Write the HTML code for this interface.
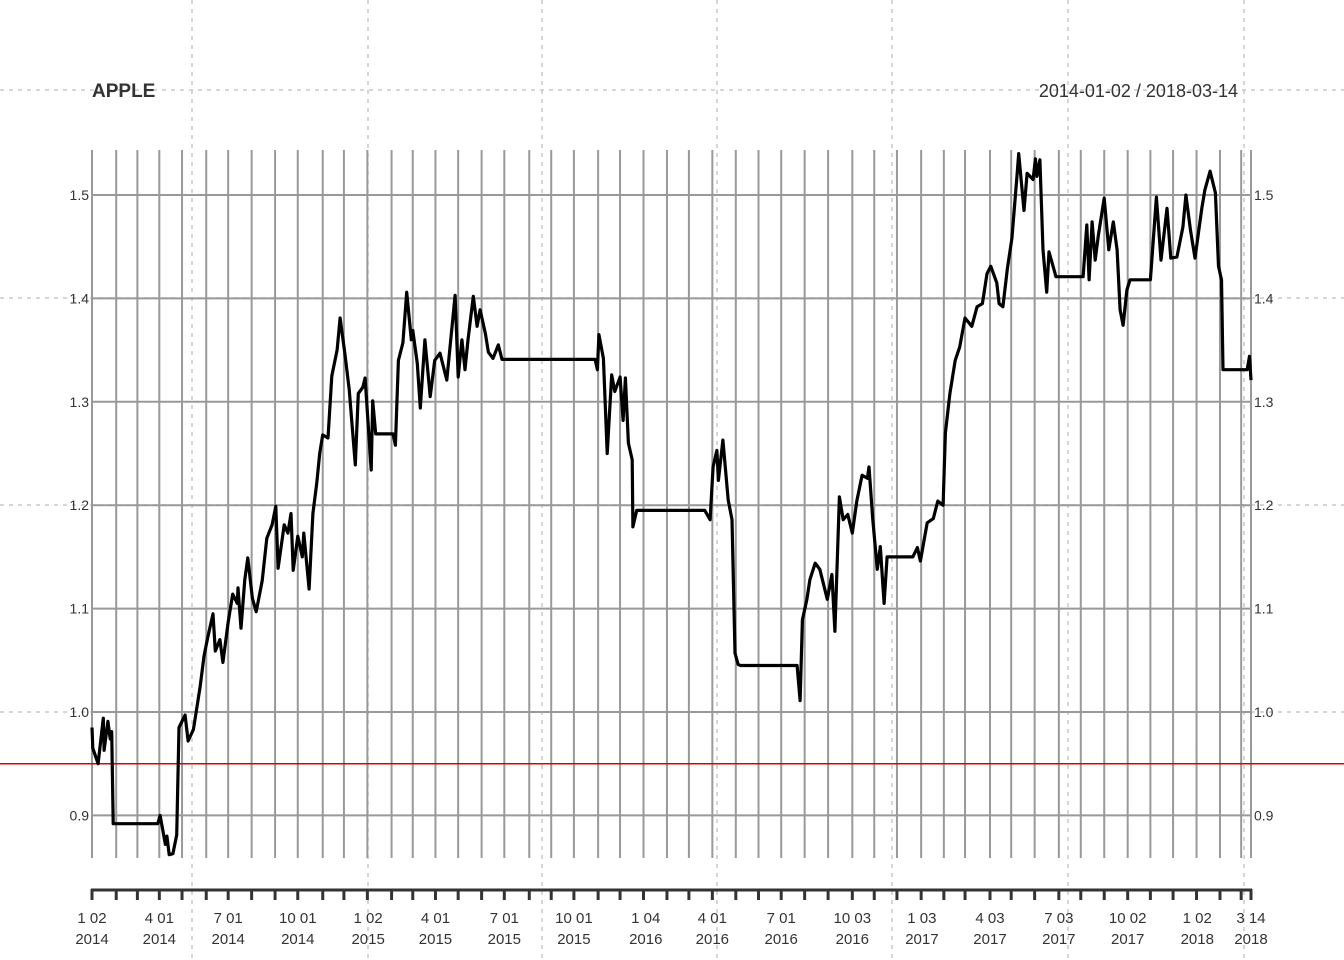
<!DOCTYPE html>
<html><head><meta charset="utf-8"><style>
html,body{margin:0;padding:0;background:#fff;}
svg{display:block;font-family:"Liberation Sans",sans-serif;}
</style></head><body>
<svg id="chart" width="1344" height="960" xmlns="http://www.w3.org/2000/svg"></svg>
<script>
// day offsets from 2014-01-02, and values
const days = [0,1,8,15,16,21,24,26,28,87,90,97,99,102,107,112,115,123,127,134,143,148,153,160,163,169,173,180,186,192,193,197,202,206,212,217,225,231,238,243,246,254,259,263,266,272,278,280,287,292,297,301,305,312,317,324,328,334,340,348,352,358,361,369,371,375,398,401,405,411,416,422,424,430,434,440,447,453,460,469,480,484,489,493,497,504,509,513,520,524,530,537,542,665,668,670,676,681,687,691,698,702,705,709,714,715,720,810,817,821,826,828,834,841,846,850,854,857,932,936,939,945,949,956,962,972,978,982,988,993,999,1005,1011,1018,1025,1027,1032,1038,1042,1047,1051,1085,1091,1095,1104,1112,1118,1125,1128,1134,1141,1147,1154,1163,1170,1177,1183,1188,1196,1199,1204,1210,1216,1223,1225,1232,1236,1244,1247,1249,1253,1257,1262,1265,1273,1274,1310,1315,1318,1322,1326,1330,1338,1344,1350,1355,1359,1363,1368,1372,1399,1407,1413,1421,1426,1434,1442,1446,1452,1458,1467,1471,1478,1485,1489,1493,1495,1527,1530,1532];
const values = [0.985,0.965,0.95,0.994,0.963,0.991,0.974,0.981,0.892,0.892,0.90,0.872,0.88,0.862,0.863,0.881,0.985,0.997,0.972,0.983,1.025,1.054,1.072,1.095,1.059,1.07,1.048,1.087,1.114,1.105,1.12,1.081,1.128,1.149,1.11,1.097,1.127,1.168,1.181,1.199,1.139,1.181,1.173,1.192,1.137,1.17,1.15,1.173,1.119,1.192,1.221,1.25,1.268,1.265,1.325,1.35,1.381,1.348,1.312,1.239,1.308,1.314,1.323,1.234,1.301,1.269,1.269,1.258,1.34,1.357,1.406,1.36,1.369,1.337,1.294,1.36,1.305,1.34,1.347,1.321,1.403,1.324,1.36,1.331,1.36,1.402,1.373,1.389,1.366,1.348,1.342,1.355,1.341,1.341,1.331,1.365,1.342,1.25,1.326,1.31,1.324,1.282,1.323,1.26,1.244,1.179,1.195,1.195,1.186,1.237,1.253,1.224,1.263,1.205,1.186,1.057,1.046,1.045,1.045,1.011,1.089,1.109,1.128,1.144,1.138,1.109,1.133,1.078,1.208,1.186,1.191,1.173,1.204,1.229,1.226,1.237,1.187,1.138,1.16,1.105,1.15,1.15,1.159,1.146,1.183,1.187,1.204,1.2,1.27,1.308,1.34,1.353,1.381,1.373,1.392,1.395,1.424,1.431,1.415,1.395,1.392,1.429,1.458,1.521,1.54,1.485,1.521,1.515,1.535,1.518,1.534,1.447,1.406,1.445,1.424,1.421,1.421,1.471,1.418,1.474,1.437,1.46,1.497,1.447,1.474,1.447,1.389,1.374,1.408,1.418,1.418,1.498,1.437,1.487,1.439,1.44,1.469,1.5,1.466,1.439,1.487,1.505,1.523,1.502,1.431,1.418,1.331,1.331,1.344,1.321];
const yTicks = [0.9,1.0,1.1,1.2,1.3,1.4,1.5];
const yTickLabels = ["0.9","1.0","1.1","1.2","1.3","1.4","1.5"];
const xLabelDates = ["2014-01-02","2014-04-01","2014-07-01","2014-10-01","2015-01-02","2015-04-01","2015-07-01","2015-10-01","2016-01-04","2016-04-01","2016-07-01","2016-10-03","2017-01-03","2017-04-03","2017-07-03","2017-10-02","2018-01-02","2018-03-14"];
const xLabelTop = ["1 02","4 01","7 01","10 01","1 02","4 01","7 01","10 01","1 04","4 01","7 01","10 03","1 03","4 03","7 03","10 02","1 02","3 14"];
const xLabelBottom = ["2014","2014","2014","2014","2015","2015","2015","2015","2016","2016","2016","2016","2017","2017","2017","2017","2018","2018"];
const threshold = 0.95;

const NS="http://www.w3.org/2000/svg";
const svg=document.getElementById('chart');
const X0=92,X1=1251,TOT=1532;
const start=Date.UTC(2014,0,2);
const xd=d=>X0+d/TOT*(X1-X0);
const xDate=s=>{const p=s.split('-');return xd((Date.UTC(+p[0],+p[1]-1,+p[2])-start)/86400000);};
const y=v=>712-(v-1.0)*1034;
function mk(tag,attrs,parent){const e=document.createElementNS(NS,tag);for(const k in attrs)e.setAttribute(k,attrs[k]);(parent||svg).appendChild(e);return e;}

[90,298,505,712].forEach(yy=>{
  const l=mk('line',{x1:0,x2:1344,y1:yy,y2:yy,stroke:'#c8c8c8','stroke-width':1.5,'stroke-dasharray':'4 5'});
  
  
});
[192,368,542,717,892,1068,1244].forEach(xx=>{
  const l=mk('line',{x1:xx,x2:xx,y1:0,y2:960,stroke:'#c8c8c8','stroke-width':1.5,'stroke-dasharray':'4 5'});
  
  
});

const months=[];
for(let yr=2014;yr<=2018;yr++)for(let m=0;m<12;m++){
  if(yr===2018&&m>2)break;
  let d=new Date(Date.UTC(yr,m,1));
  if(yr===2014&&m===0)d=new Date(start);
  while(d.getUTCDay()===0||d.getUTCDay()===6)d=new Date(d.getTime()+86400000);
  months.push((d-start)/86400000);
}
months.push(TOT);
months.forEach(d=>{
  const xx=xd(d);
  const g=mk('line',{x1:xx,x2:xx,y1:150,y2:858,stroke:'#999','stroke-width':2});
  
  
  const t=mk('line',{x1:xx,x2:xx,y1:889,y2:900,stroke:'#333','stroke-width':3});
  
  
});

yTicks.forEach((v,i)=>{
  const g=mk('line',{x1:X0,x2:X1,y1:y(v),y2:y(v),stroke:'#999','stroke-width':2});
  
  
  const tl=mk('text',{x:89,y:y(v)+5,'text-anchor':'end','font-size':14,fill:'#333'});
  tl.textContent=yTickLabels[i];
  
  
  const tr=mk('text',{x:1254,y:y(v)+5,'text-anchor':'start','font-size':14,fill:'#333'});
  tr.textContent=yTickLabels[i];
  
  
});

const ax=mk('line',{x1:X0-1,x2:X1+1,y1:890,y2:890,stroke:'#333','stroke-width':3});


xLabelDates.forEach((s,i)=>{
  const xx=xDate(s);
  const t1=mk('text',{x:xx,y:923,'text-anchor':'middle','font-size':15,fill:'#333'});
  t1.textContent=xLabelTop[i];
  
  
  const t2=mk('text',{x:xx,y:944,'text-anchor':'middle','font-size':15,fill:'#333'});
  t2.textContent=xLabelBottom[i];
  
  
});

const red=mk('line',{x1:0,x2:1344,y1:y(threshold),y2:y(threshold),stroke:'#e00000','stroke-width':1.5});



const pts=days.map((d,i)=>xd(d).toFixed(1)+','+y(values[i]).toFixed(1)).join(' ');
const line=mk('polyline',{points:pts,fill:'none',stroke:'#000','stroke-width':3.2,'stroke-linejoin':'round'});



const ti=mk('text',{x:92,y:97,'font-size':19,'font-weight':'bold',fill:'#333'});
ti.textContent='APPLE';


const dr=mk('text',{x:1238,y:97,'text-anchor':'end','font-size':18,fill:'#333'});
dr.textContent='2014-01-02 / 2018-03-14';


</script>
</body></html>
